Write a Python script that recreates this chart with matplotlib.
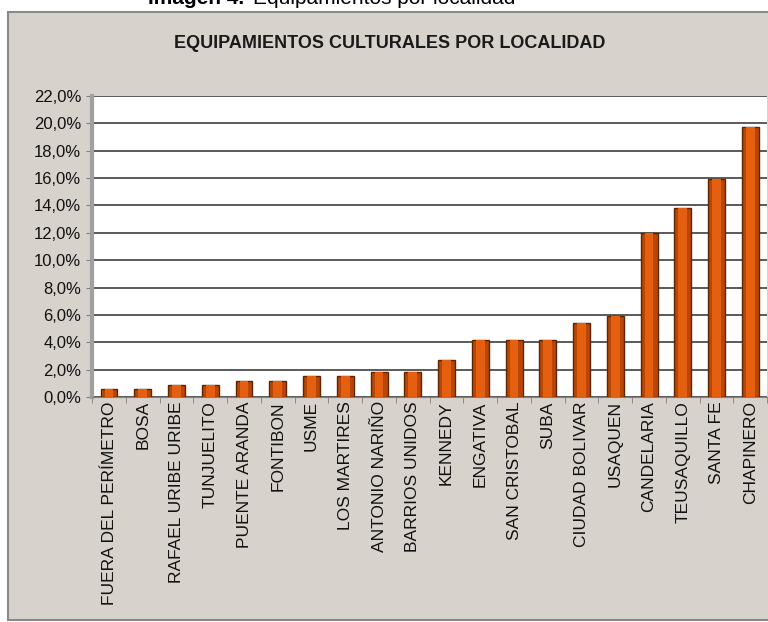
import numpy as np
import matplotlib
matplotlib.use('Agg')
import matplotlib.pyplot as plt
from matplotlib.patches import Rectangle
from matplotlib.ticker import FuncFormatter, MultipleLocator, FixedLocator

localidades = ['FUERA DEL PERÍMETRO', 'BOSA', 'RAFAEL URIBE URIBE', 'TUNJUELITO',
               'PUENTE ARANDA', 'FONTIBON', 'USME', 'LOS MARTIRES', 'ANTONIO NARIÑO',
               'BARRIOS UNIDOS', 'KENNEDY', 'ENGATIVA', 'SAN CRISTOBAL', 'SUBA',
               'CIUDAD BOLIVAR', 'USAQUEN', 'CANDELARIA', 'TEUSAQUILLO', 'SANTA FE',
               'CHAPINERO']
porcentajes = [0.6, 0.6, 0.9, 0.9, 1.2, 1.2, 1.5, 1.5, 1.8, 1.8,
               2.7, 4.2, 4.2, 4.2, 5.4, 5.9, 12.0, 13.8, 15.9, 19.7]

plt.rcParams['font.family'] = ['Liberation Sans', 'DejaVu Sans']

fig = plt.figure(figsize=(7.68, 6.22), dpi=100)
fig.patch.set_facecolor('white')

# marco gris del grafico
marco = Rectangle((0.0104, 0.003), 1.0, 0.978, transform=fig.transFigure,
                  facecolor='#d8d2cc', edgecolor='#8a8a8a', linewidth=1.5, zorder=-5)
fig.add_artist(marco)

# texto del documento, recortado arriba como en la imagen
fig.text(0.318, 1 - 4 / 622, 'Imagen 4.', ha='right', va='baseline',
         fontsize=15, fontweight='bold', color='black', zorder=-4)
fig.text(0.33, 1 - 4 / 622, 'Equipamientos por localidad', ha='left', va='baseline',
         fontsize=15, color='black', zorder=-4)

fig.text(0.508, 1 - 43 / 622, 'EQUIPAMIENTOS CULTURALES POR LOCALIDAD', ha='center',
         va='center', fontsize=13, fontweight='bold', color='#1a1a1a',
         family=['Liberation Sans Narrow', 'Liberation Sans'])

ax = fig.add_axes([0.12, 0.3617, 0.879, 0.484])
ax.set_facecolor('white')

x = np.arange(len(localidades))
ax.bar(x, porcentajes, width=0.5, color='#b84604', edgecolor='#5e2403', linewidth=1.0,
       zorder=3)
ax.bar(x, porcentajes, width=0.26, color='#e45f10', linewidth=0, zorder=4)

ax.set_xlim(-0.5, len(localidades) - 0.5)
ax.set_ylim(0, 22)
ax.yaxis.set_major_locator(MultipleLocator(2))
ax.yaxis.set_major_formatter(FuncFormatter(lambda v, p: f'{v:.1f}%'.replace('.', ',')))
ax.grid(axis='y', color='#4d4d4d', linewidth=1.3, zorder=1)

ax.set_xticks(x)
ax.set_xticklabels(localidades, rotation=90, fontsize=12.5, color='#111111')
ax.xaxis.set_minor_locator(FixedLocator(np.arange(-0.5, len(localidades), 1)))
ax.tick_params(axis='x', which='major', length=0, pad=3)
ax.tick_params(axis='x', which='minor', length=4, color='#808080')
ax.tick_params(axis='y', length=4, color='#808080', labelsize=12, pad=4,
               labelcolor='#111111')

for s in ['top', 'right']:
    ax.spines[s].set_visible(False)
ax.spines['left'].set_color('#a0a0a0')
ax.spines['left'].set_linewidth(3)
ax.spines['bottom'].set_color('#808080')

plt.savefig('out.png', dpi=100, facecolor='white')
